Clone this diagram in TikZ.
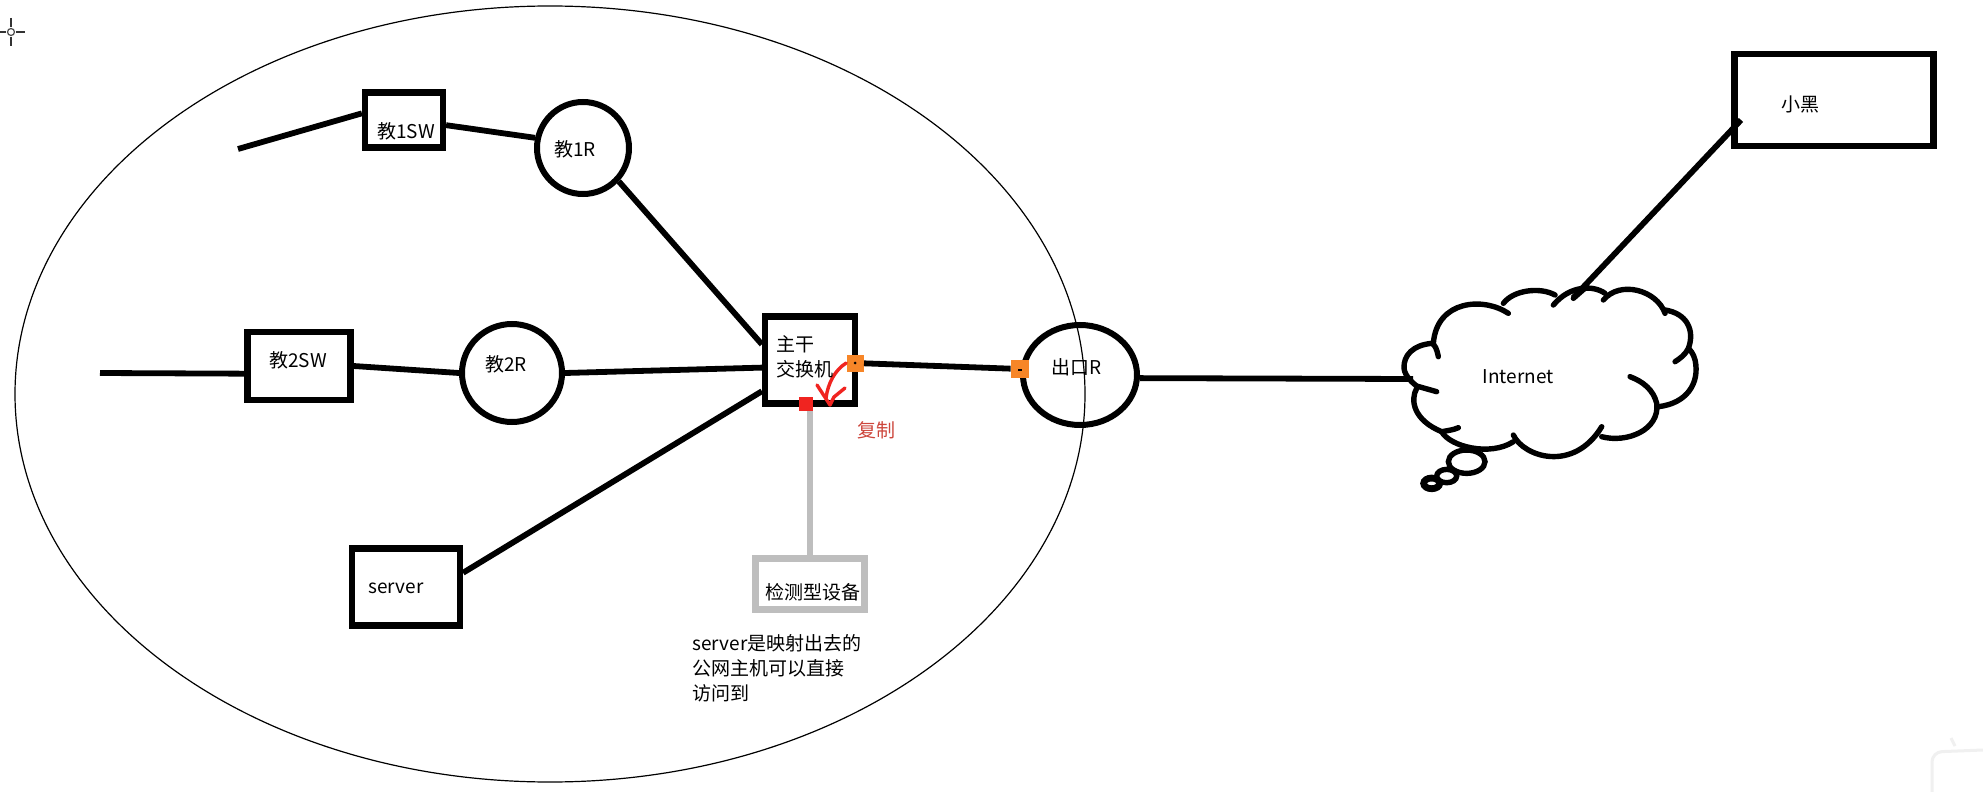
\documentclass[tikz,border=0pt]{standalone}
\usepackage{fontspec}
\setmainfont{Noto Sans CJK SC}
\usetikzlibrary{shapes.geometric, positioning}
\usepackage{xcolor}
\definecolor{portorange}{RGB}{247,134,40}
\definecolor{tapred}{RGB}{240,36,32}
\definecolor{notered}{RGB}{205,70,60}
\definecolor{tapgray}{RGB}{190,190,190}

\begin{document}
\begin{tikzpicture}[x=0.5pt, y=-0.5pt]
    % Styles
    \tikzstyle{box} = [rectangle, draw, line width=3.1pt, inner sep=0pt]
    \tikzstyle{router} = [ellipse, draw, line width=3pt, inner sep=0pt]
    \tikzstyle{link} = [draw, line width=2.9pt]
    \tikzstyle{port} = [rectangle, fill=portorange, minimum size=8.5pt, inner sep=0pt]
    \tikzstyle{tag} = [inner sep=0pt, align=left, font=\fontsize{9.5}{12.5}\selectfont]
    \tikzstyle{puff} = [draw, line width=2.7pt, line cap=round]

    \path [use as bounding box, fill=white] (0,0) rectangle (1983,792);

    % Nodes
    \node [ellipse, draw, line width=0.6pt, minimum width=535pt, minimum height=388pt, inner sep=0pt] (campus) at (550,394) {};
    \node [box, minimum width=45pt, minimum height=43.5pt] (main) at (810,360) {};
    \node [router, minimum width=50pt, minimum height=49pt, left of=main, node distance=149pt, yshift=-6.5pt] (r2) {};
    \node [box, minimum width=51.5pt, minimum height=34pt, left of=r2, node distance=106.5pt, yshift=3.5pt] (sw2) {};
    \node [router, minimum width=46pt, minimum height=46pt, above of=main, node distance=106pt, xshift=-113.5pt] (r1) {};
    \node [box, minimum width=39pt, minimum height=27.5pt, left of=r1, node distance=89.5pt, yshift=14pt] (sw1) {};
    \node [box, minimum width=54pt, minimum height=38.5pt, below of=sw2, node distance=110.5pt, xshift=53.5pt] (server) {};
    \node [router, minimum width=57pt, minimum height=50pt, right of=main, node distance=135pt, yshift=-7.5pt] (exit) {};
    \node [box, draw=tapgray, minimum width=54.5pt, minimum height=25.5pt, below of=main, node distance=112pt] (monitor) {};
    \node [box, minimum width=99.5pt, minimum height=46pt] (hacker) at (1834,100) {};
    \coordinate (stub1) at (238,149);
    \coordinate (stub2) at (100,373);
    \coordinate (cloudwest) at (1413,379);
    \coordinate (cloudtop) at (1573,298);
    \coordinate (hackerfoot) at (1741,120);

    % Edges
    \path [link] (stub1) -- (sw1.171);
    \path [link] (sw1.-7) -- (r1.168);
    \path [link] (r1.-43) -- (main.162);
    \path [link] (stub2) -- (sw2.188);
    \path [link] (sw2.east) -- (r2.west);
    \path [link] (r2.east) -- (main.189);
    \path [link] (server.14) -- (main.213);
    \path [link] (exit.-3) -- (cloudwest);
    \path [link] (hackerfoot) -- (cloudtop);

    % Ports
    \node [port, xshift=-1.5pt, yshift=-1.5pt] (port1) at (main.east) {};
    \node [port, minimum size=9pt, yshift=3pt] (port2) at (exit.west) {};
    \node [rectangle, fill=tapred, minimum size=7pt, inner sep=0pt, xshift=-2pt, yshift=1.5pt] (tap) at (main.south) {};
    \path [link] (port1) -- (port2);
    \draw [tapgray, line width=3.2pt] (monitor.north) -- (monitor.north |- tap.south);
    \fill (port1) circle (0.7pt);
    \fill (port2) ++(-2,0) rectangle ++(4,1.5);

    % Copy mark
    \draw [tapred, line width=1.7pt, line cap=round] (port1.west) .. controls (835,370) and (828,383) .. (826,398);
    \draw [tapred, line width=1.7pt, line cap=round, line join=round] (817,385) -- (830,405) -- (834,397) -- (845,388);

    % Labels
    \node [tag, anchor=west] (maintext) at (776,357) {主干\\交换机};
    \node [tag] (sw1text) at (406,131) {教1SW};
    \node [tag] (r1text) at (575,149) {教1R};
    \node [tag] (sw2text) at (298,360) {教2SW};
    \node [tag] (r2text) at (506,364) {教2R};
    \node [tag] (servertext) at (396,588) {server};
    \node [tag] (exittext) at (1077,367) {出口R};
    \node [tag] (monitortext) at (813,592) {检测型设备};
    \node [tag, text=notered] (copytext) at (876,430) {复制};
    \node [tag] (hackertext) at (1800,104) {小黑};
    \node [tag] (nettext) at (1518,377) {Internet};
    \node [tag, anchor=north west] (notetext) at (692,634) {server是映射出去的\\公网主机可以直接\\访问到};

    % Cloud
    \begin{scope}[shift={(1380,260)}, x=0.1667pt, y=-0.1667pt]
        \draw [puff] (175,290) .. controls (170,265) and (165,255) .. (155,250) .. controls (100,255) and (70,285) .. (72,325) .. controls (75,350) and (100,370) .. (110,378) -- (170,395);
        \draw [puff] (110,385) .. controls (90,420) and (100,480) .. (185,515) .. controls (200,512) and (220,510) .. (235,503);
        \draw [puff] (185,515) .. controls (210,560) and (330,590) .. (400,545);
        \draw [puff] (400,525) .. controls (430,590) and (580,640) .. (665,500);
        \draw [puff] (665,530) .. controls (740,550) and (840,510) .. (830,430) .. controls (820,390) and (790,365) .. (750,350);
        \draw [puff] (835,440) .. controls (920,430) and (960,370) .. (945,300) .. controls (940,280) and (930,270) .. (925,265);
        \draw [puff] (885,305) .. controls (900,295) and (915,285) .. (925,265) .. controls (945,210) and (920,160) .. (855,150);
        \draw [puff] (855,160) .. controls (830,90) and (720,60) .. (670,120);
        \draw [puff] (675,100) .. controls (640,75) and (570,75) .. (520,135);
        \draw [puff] (525,105) .. controls (480,80) and (400,90) .. (370,130);
        \draw [puff] (385,160) .. controls (310,110) and (170,120) .. (160,250);
        \draw [puff] (580,115) -- (620,80);
        \draw [puff] (260,605) ellipse (55 and 35);
        \draw [puff] (200,648) ellipse (30 and 20);
        \draw [puff, line width=3.4pt] (155,670) ellipse (24 and 16);
    \end{scope}

    % Cursor and corner mark
    \draw [line width=0.6pt, black!70] (11,32) circle (3.5);
    \draw [line width=0.8pt, black!80] (11,18) -- (11,27) (11,37) -- (11,46) (-3,32) -- (6,32) (16,32) -- (25,32);
    \draw [black!6, line width=1.5pt, rounded corners=5pt] (1932,792) -- (1932,752) -- (1983,750);
    \draw [black!6, line width=1.5pt] (1955,746) -- (1951,738);
\end{tikzpicture}
\end{document}
